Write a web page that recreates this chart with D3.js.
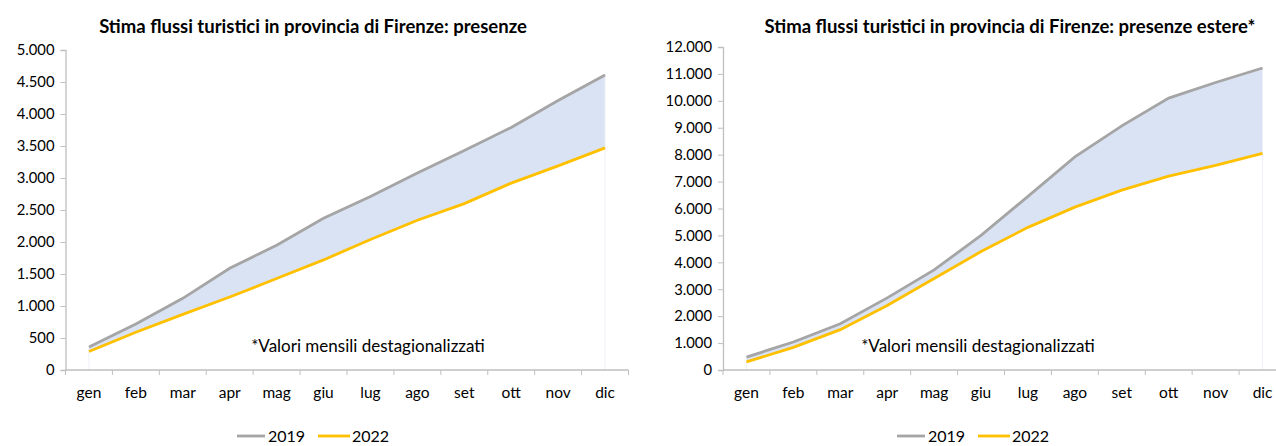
<!DOCTYPE html>
<html><head><meta charset="utf-8">
<script src="https://cdn.jsdelivr.net/npm/d3@7"></script>
<style>body{margin:0;background:#fff;} text{font-family:Lato,"Open Sans",sans-serif;fill:#000;}</style>
</head><body>
<svg id="c" width="1276" height="446"></svg>
<script>
const months = ["gen","feb","mar","apr","mag","giu","lug","ago","set","ott","nov","dic"];
const left2019 = [360, 720, 1120, 1590, 1950, 2370, 2710, 3080, 3430, 3790, 4210, 4610];
const left2022 = [290, 590, 870, 1140, 1430, 1720, 2040, 2340, 2600, 2920, 3190, 3470];
const right2019 = [480, 1040, 1720, 2680, 3720, 5000, 6450, 7920, 9070, 10100, 10680, 11220];
const right2022 = [300, 840, 1500, 2400, 3400, 4400, 5300, 6050, 6680, 7200, 7600, 8050];
const leftTicks = [0,500,1000,1500,2000,2500,3000,3500,4000,4500,5000];
const rightTicks = [0,1000,2000,3000,4000,5000,6000,7000,8000,9000,10000,11000,12000];
const seriesNames = ["2019","2022"];
const titles = ["Stima flussi turistici in provincia di Firenze: presenze","Stima flussi turistici in provincia di Firenze: presenze estere*"];
const note = "*Valori mensili destagionalizzati";

const svg = d3.select("#c");
const fmt = v => d3.format(",")(v).replace(/,/g,".");

function chart(o){
  const g = svg.append("g");
  const x = d3.scaleBand().domain(months).range([o.x0,o.x1]);
  const y = d3.scaleLinear().domain([0,o.max]).range([370,o.yTop]);
  const cx = m => x(m)+x.bandwidth()/2;
  const data = months.map((m,i)=>({m,a:o.s1[i],b:o.s2[i]}));
  g.append("path").datum(data)
    .attr("d", d3.area().x(d=>cx(d.m)).y0(d=>y(d.b)).y1(d=>y(d.a)))
    .attr("fill","#dae3f3");
  [data[0],data[data.length-1]].forEach(d=>{
    g.append("line").attr("x1",cx(d.m)).attr("x2",cx(d.m)).attr("y1",y(0)).attr("y2",y(d.a))
      .attr("stroke","#eef1f7").attr("stroke-width",1);
  });
  const ya = d3.axisLeft(y).tickValues(o.ticks).tickFormat(fmt).tickSize(5).tickPadding(6);
  const yg = g.append("g").attr("transform",`translate(${o.x0},0)`).call(ya);
  yg.select(".domain").attr("stroke","#bfbfbf").attr("stroke-width",1.3);
  yg.selectAll(".tick line").attr("stroke","#bfbfbf");
  yg.selectAll("text").style("font-size","14.8px").attr("fill","#000");
  const xa = d3.axisBottom(x).tickSize(0).tickPadding(0);
  const xg = g.append("g").attr("transform",`translate(0,${y(0)})`).call(xa);
  xg.select(".domain").remove();
  xg.append("line").attr("x1",o.x0).attr("x2",o.x1).attr("stroke","#bfbfbf").attr("stroke-width",1.3);
  const edges = months.map(m=>x(m)).concat([o.x1]);
  xg.selectAll(".sep").data(edges).join("line").attr("class","sep")
    .attr("x1",d=>d).attr("x2",d=>d).attr("y1",0).attr("y2",5).attr("stroke","#bfbfbf");
  xg.selectAll(".tick text").attr("dy","0").attr("y",28).style("font-size","15.5px").attr("fill","#000");
  const ln = k => d3.line().x(d=>cx(d.m)).y(d=>y(d[k]));
  g.append("path").datum(data).attr("d",ln("a")).attr("fill","none").attr("stroke","#a5a5a5").attr("stroke-width",2.8);
  g.append("path").datum(data).attr("d",ln("b")).attr("fill","none").attr("stroke","#ffc000").attr("stroke-width",2.8);
  g.append("text").attr("x",o.tx).attr("y",33).attr("text-anchor","middle")
    .style("font-size","18.5px").style("font-weight","bold").text(o.title);
  g.append("text").attr("x",o.nx).attr("y",352).attr("text-anchor","middle")
    .style("font-size","17px").text(note);
  const L = g.append("g").attr("transform",`translate(${o.lx},436)`);
  L.append("line").attr("x1",0).attr("x2",28).attr("stroke","#a5a5a5").attr("stroke-width",2.8);
  L.append("text").attr("x",31).attr("y",6).style("font-size","16px").text(seriesNames[0]);
  L.append("line").attr("x1",81).attr("x2",113).attr("stroke","#ffc000").attr("stroke-width",2.8);
  L.append("text").attr("x",115).attr("y",6).style("font-size","16px").text(seriesNames[1]);
}

chart({x0:65.5,x1:628.5,yTop:50,max:5000,ticks:leftTicks,s1:left2019,s2:left2022,title:titles[0],tx:313,nx:368,lx:237});
chart({x0:723,x1:1286,yTop:47,max:12000,ticks:rightTicks,s1:right2019,s2:right2022,title:titles[1],tx:1010,nx:978,lx:897});
</script>
</body></html>
